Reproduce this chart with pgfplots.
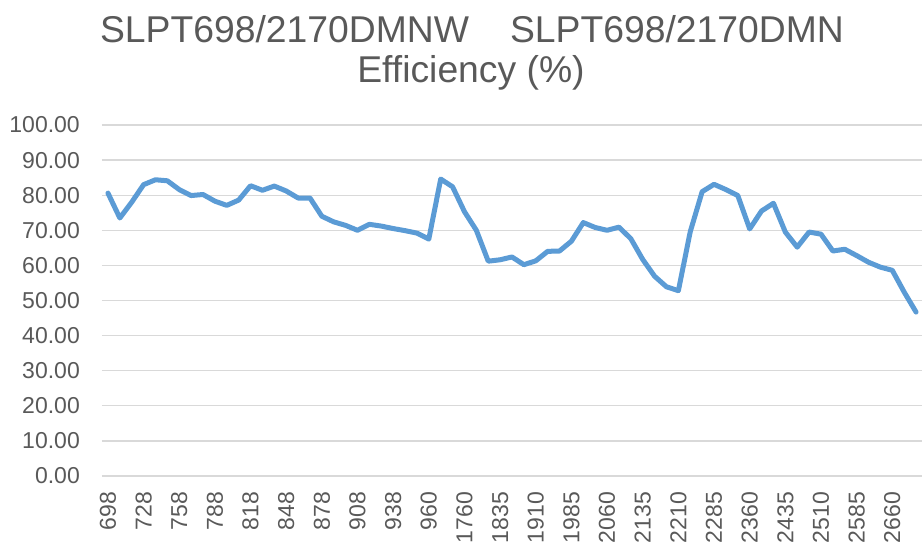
\documentclass[border=0pt]{standalone}
\usepackage{fontspec}
\setmainfont{Liberation Sans}
\usepackage{pgfplots}
\pgfplotsset{compat=1.18}
\definecolor{linec}{HTML}{5B9BD5}
\definecolor{gridc}{HTML}{D9D9D9}
\definecolor{txtc}{HTML}{595959}
\begin{document}
\begin{tikzpicture}[x=1pt,y=1pt]
\useasboundingbox (0,0) rectangle (922,543);
\node[anchor=base, text=txtc, font=\fontsize{37.3}{42}\selectfont, inner sep=0pt] at (472,500) {SLPT698/2170DMNW\hspace{1.1em}SLPT698/2170DMN};
\node[anchor=base, text=txtc, font=\fontsize{37.3}{42}\selectfont, inner sep=0pt] at (471,460) {Efficiency (\%)};
\begin{axis}[
  at={(102pt,67pt)}, anchor=south west,
  scale only axis, width=820pt, height=351pt,
  xmin=-0.5, xmax=68.5, ymin=0, ymax=100,
  ytick={0,10,...,100},
  xtick={0,3,...,66},
  xticklabels={698,728,758,788,818,848,878,908,938,960,1760,1835,1910,1985,2060,2135,2210,2285,2360,2435,2510,2585,2660},
  ymajorgrids,
  major grid style={gridc, line width=1.3pt},
  axis line style={draw=none},
  tick style={draw=none},
  ticklabel style={font=\fontsize{23}{23}\selectfont, text=txtc},
  xticklabel style={rotate=90, anchor=east, inner sep=0pt},
  yticklabel style={anchor=east, inner sep=0pt},
  xticklabel shift=16pt,
  yticklabel shift=22pt,
  /pgf/number format/.cd, fixed, fixed zerofill, precision=2, assume math mode=true,
]
\addplot[linec, line width=5pt, line join=round, line cap=round] table[x=i, y=v] {
i v
0 80.6
1 73.5
2 78.0
3 83.0
4 84.4
5 84.1
6 81.6
7 79.9
8 80.2
9 78.3
10 77.1
11 78.6
12 82.7
13 81.4
14 82.6
15 81.2
16 79.2
17 79.2
18 74.0
19 72.4
20 71.4
21 70.0
22 71.7
23 71.2
24 70.5
25 69.9
26 69.2
27 67.5
28 84.6
29 82.4
30 75.3
31 70.0
32 61.2
33 61.6
34 62.4
35 60.2
36 61.3
37 64.0
38 64.1
39 66.9
40 72.2
41 70.8
42 70.0
43 70.9
44 67.6
45 61.7
46 56.9
47 53.9
48 52.8
49 69.6
50 81.0
51 83.1
52 81.6
53 79.9
54 70.4
55 75.5
56 77.7
57 69.5
58 65.2
59 69.5
60 68.9
61 64.1
62 64.6
63 62.8
64 60.9
65 59.5
66 58.6
67 52.4
68 46.7
};
\end{axis}
\end{tikzpicture}
\end{document}
